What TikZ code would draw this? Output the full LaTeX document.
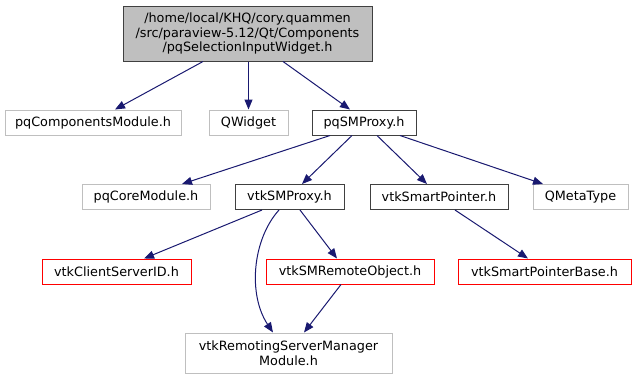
\documentclass[tikz,border=0pt]{standalone}
\usepackage{fontspec}
\setmainfont{DejaVu Sans}
\usetikzlibrary{arrows.meta,calc}

\definecolor{midnightblue}{HTML}{191970}
\definecolor{grey75}{HTML}{BFBFBF}
\definecolor{darkedge}{HTML}{404040}

\begin{document}
\begin{tikzpicture}[x=0.75pt,y=-0.75pt,
    hdr/.style={draw=darkedge,line width=0.75pt,rectangle,inner sep=0pt,
      minimum height=25*0.75pt,font=\fontsize{9.6}{10.9}\selectfont},
    sys/.style={hdr,draw=grey75},
    cut/.style={hdr,draw=red},
    dep/.style={draw=midnightblue,line width=0.75pt,
      -{Triangle[length=7.5pt,width=6pt,fill=midnightblue]}}]
  \useasboundingbox (0,0) rectangle (636,380);

  % root file
  \node[hdr,fill=grey75,minimum width=249*0.75pt,minimum height=55*0.75pt,align=center]
    (root) at (247.5,33.5) {/home/local/KHQ/cory.quammen\\/src/paraview-5.12/Qt/Components\\/pqSelectionInputWidget.h};

  % first level
  \node[sys,minimum width=176*0.75pt] (pqcomp)  at (93,122.5)    {pqComponentsModule.h};
  \node[sys,minimum width=79*0.75pt]  (qwidget) at (248.5,122.5) {QWidget};
  \node[hdr,minimum width=104*0.75pt] (pqsm)    at (364,122.5)   {pqSMProxy.h};

  % second level
  \node[sys,minimum width=128*0.75pt] (pqcore)   at (146,197)   {pqCoreModule.h};
  \node[hdr,minimum width=109*0.75pt] (smproxy)  at (289.5,197) {vtkSMProxy.h};
  \node[hdr,minimum width=138*0.75pt] (smartptr) at (439,197)   {vtkSmartPointer.h};
  \node[sys,minimum width=95*0.75pt]  (qmeta)    at (580.5,197) {QMetaType};

  % third level
  \node[cut,minimum width=149*0.75pt] (csid)     at (116.5,271.5) {vtkClientServerID.h};
  \node[cut,minimum width=168*0.75pt] (remote)   at (350,271.5)   {vtkSMRemoteObject.h};
  \node[cut,minimum width=173*0.75pt] (smartbase) at (544.5,271.5) {vtkSmartPointerBase.h};

  \node[sys,minimum width=207*0.75pt,minimum height=40*0.75pt,align=center]
    (remmod) at (288.5,353) {vtkRemotingServerManager\\Module.h};

  % includes
  \draw[dep] ($(root.south)+(-44.5,0)$) -- ($(pqcomp.north)+(22,0)$);
  \draw[dep] (qwidget.north |- root.south) -- (qwidget.north);
  \draw[dep] ($(root.south)+(35.5,0)$) -- ($(pqsm.north)+(-14,0)$);

  \draw[dep] ($(pqsm.south)+(-34,0)$) -- ($(pqcore.north)+(36,0)$);
  \draw[dep] ($(pqsm.south)+(-12,0)$) -- ($(smproxy.north)+(12.5,0)$);
  \draw[dep] ($(pqsm.south)+(13,0)$) -- ($(smartptr.north)+(-12,0)$);
  \draw[dep] ($(pqsm.south)+(36,0)$) -- ($(qmeta.north)+(-37.5,0)$);

  \draw[dep] ($(smproxy.south)+(-27.5,0)$) -- ($(csid.north)+(27.5,0)$);
  \draw[dep] ($(smproxy.south)+(-10.5,0)$) .. controls (252,240) and (248,295) .. ($(remmod.north)+(-15.5,0)$);
  \draw[dep] ($(smproxy.south)+(10.5,0)$) -- ($(remote.north)+(-13,0)$);
  \draw[dep] ($(smartptr.south)+(16,0)$) -- ($(smartbase.north)+(-16.5,0)$);

  \draw[dep] ($(remote.south)+(-9,0)$) -- ($(remmod.north)+(15.5,0)$);
\end{tikzpicture}
\end{document}
